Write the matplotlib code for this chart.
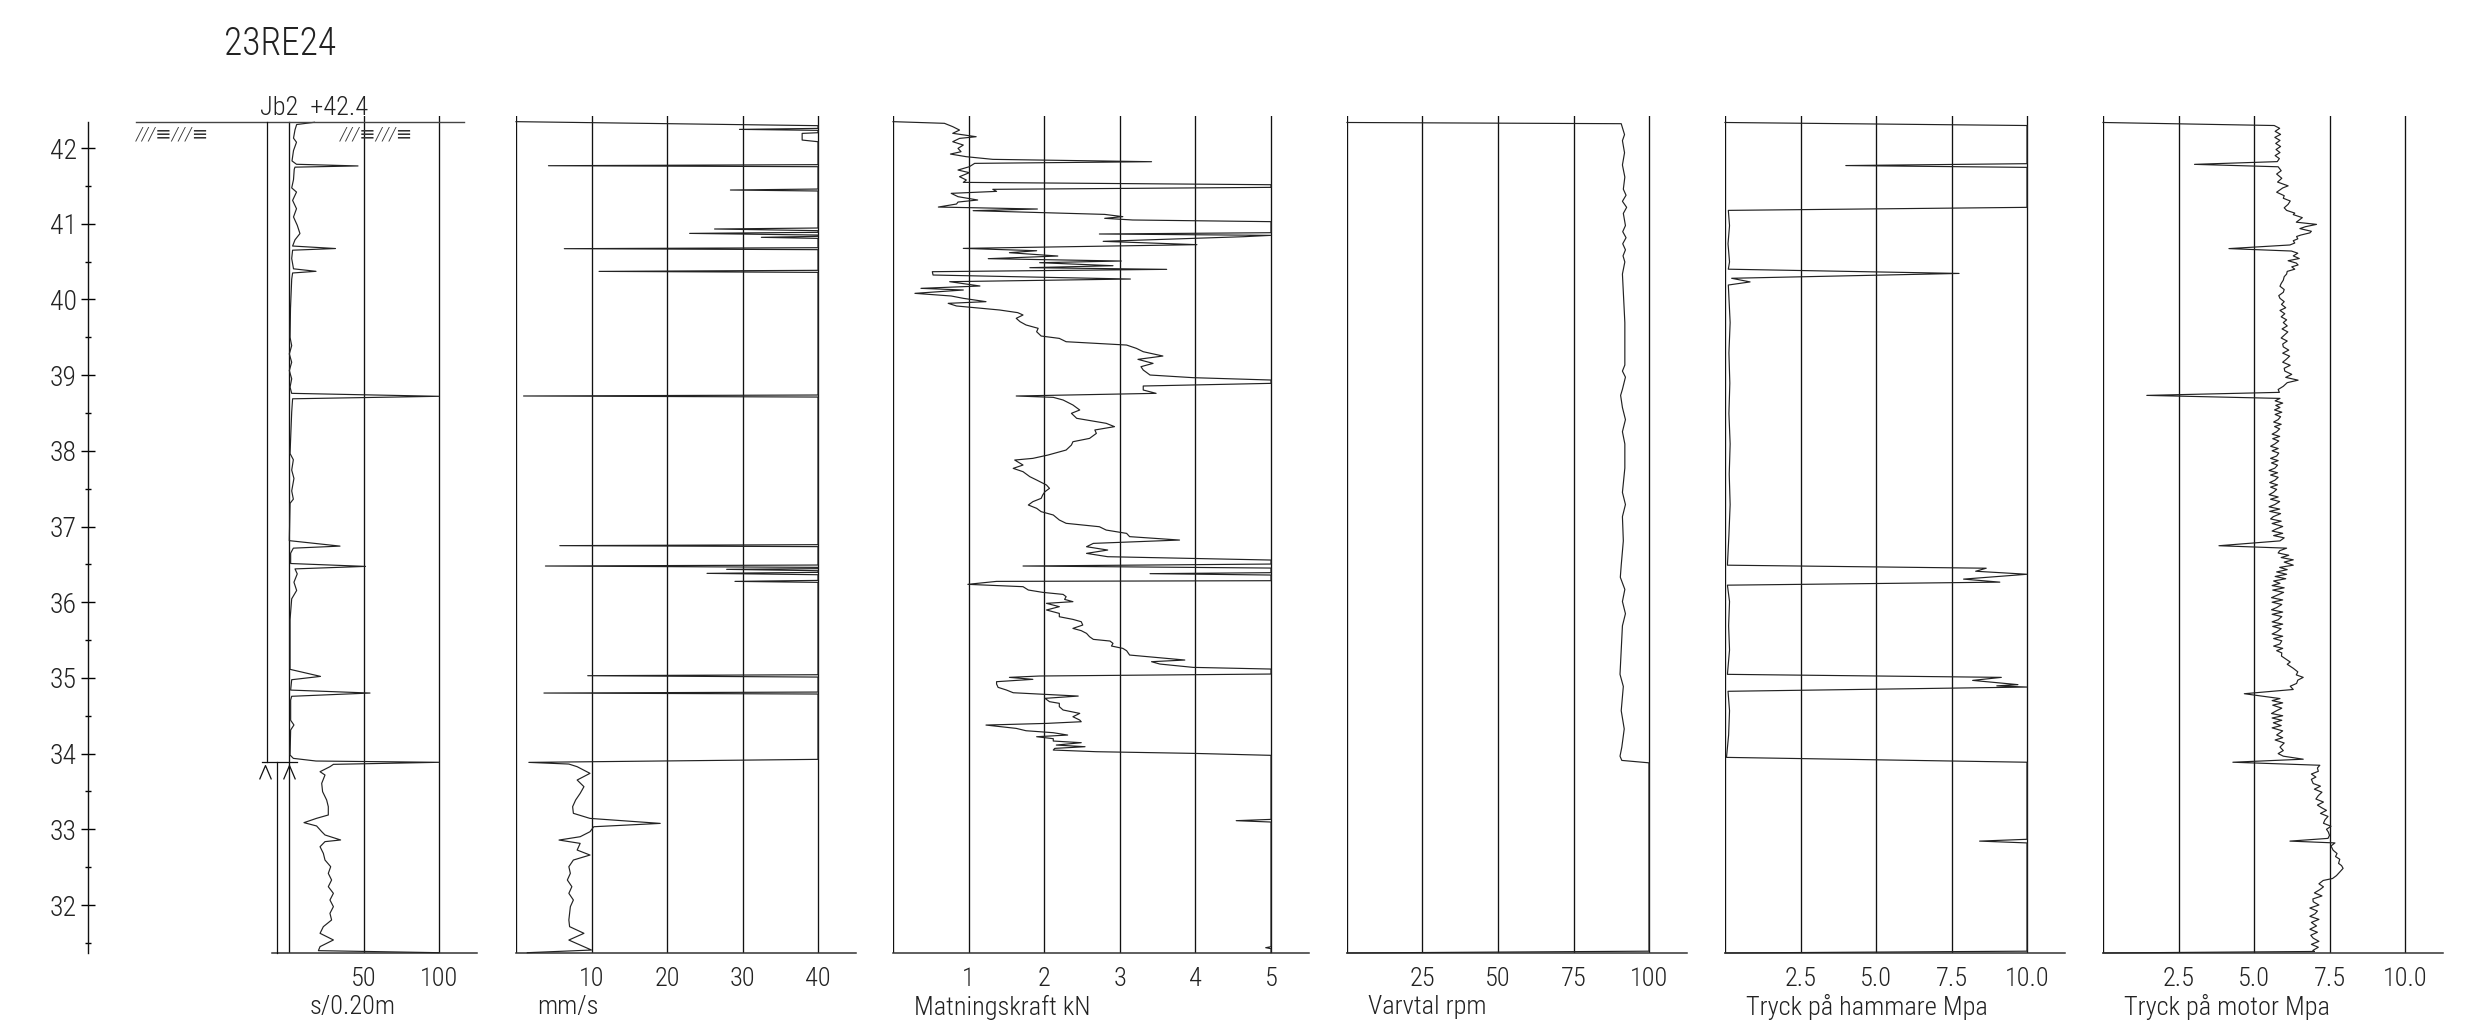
import numpy as np
import matplotlib
matplotlib.use("Agg")
import matplotlib.pyplot as plt
from matplotlib import font_manager

# --- Sheet geometry (pixels of the 2486 x 1034 drawing) ---
W, H, DPI = 2486, 1034, 100
PX_PER_M = 75.7          # vertical scale of the log
Y_AT_42 = 148            # pixel row of level +42.0
TOP_PX, BOT_PX = 116, 953
PT = 72 / DPI            # points per pixel

GROUND = 42.34           # ground level, Jb2 +42.4
CASING_SHOE = 33.89      # end of casing / start of rock drilling

# --- Level axis ---
LEVEL_MAJOR = list(range(32, 43))
LEVEL_MINOR = [31.5, 32.5, 33.5, 34.5, 35.5, 36.5, 37.5, 38.5, 39.5, 40.5, 41.5]

# --- s/0.20m ---
S020_DEPTH = [42.34, 42.31, 42.24, 42.13, 42.076, 41.966, 41.829, 41.785, 41.763, 41.747,
              41.719, 41.582, 41.473, 41.418, 41.308, 41.198, 41.089, 40.979, 40.870, 40.787,
              40.705, 40.672, 40.650, 40.540, 40.404, 40.371, 40.349, 40.266, 39.883, 39.499,
              39.389, 39.280, 39.170, 39.060, 38.951, 38.841, 38.759, 38.720, 38.687, 38.512,
              37.964, 37.882, 37.745, 37.635, 37.470, 37.361, 37.306, 36.813, 36.741, 36.714,
              36.648, 36.511, 36.473, 36.440, 36.374, 36.264, 36.155, 36.045, 35.771, 35.113,
              35.020, 34.976, 34.839, 34.800, 34.757, 34.708, 34.44, 34.378, 34.312, 33.981,
              33.937, 33.902, 33.885, 33.858, 33.827, 33.761, 33.717, 33.607, 33.497, 33.387,
              33.299, 33.189, 33.145, 33.088, 33.044, 32.969, 32.925, 32.859, 32.837, 32.770,
              32.682, 32.594, 32.506, 32.418, 32.330, 32.242, 32.154, 32.066, 31.978, 31.890,
              31.802, 31.714, 31.626, 31.538, 31.450, 31.397, 31.37]
S020_VAL = [17, 5.1, 4, 3, 5, 3, 2, 5, 46, 4,
            3.5, 3, 1.8, 5, 2.4, 5, 3, 5.5, 7.3, 4,
            2.4, 31, 2.4, 1.8, 3, 18, 2.4, 1.8, 1, 0.7,
            1.8, 0.2, 1.8, 0.2, 1.8, 0.7, 1.8, 100, 2.4, 1.8,
            0.7, 2.9, 1.8, 3.3, 1.8, 2.9, 0.7, 0.2, 34, 2.9,
            1.1, 1.1, 51, 4, 5.5, 3.3, 5.1, 1.8, 0.7, 0.7,
            21, 1.8, 1.1, 54, 1.8, 1.1, 1.1, 3.3, 1.1, 0.7,
            2.9, 18, 100, 29.6, 27.3, 20.7, 24, 21.8, 22.4, 25.1,
            26.2, 26.2, 18.4, 10, 18.4, 21.8, 24, 34.4, 24, 20.7,
            22.9, 24, 27.8, 26.2, 28.4, 26.2, 29.6, 27.3, 29.6, 27.3,
            28.4, 22.9, 20.7, 29.6, 20.7, 19.6, 100]

# --- mm/s ---
RATE_DEPTH = [42.348, 42.295, 42.259, 42.246, 42.233, 42.202, 42.193, 42.105, 42.083, 41.780,
              41.766, 41.753, 41.458, 41.445, 41.432, 40.943, 40.930, 40.908, 40.886, 40.872,
              40.850, 40.833, 40.820, 40.806, 40.683, 40.670, 40.657, 40.384, 40.370, 40.357,
              38.737, 38.724, 38.710, 36.760, 36.747, 36.734, 36.491, 36.478, 36.460, 36.443,
              36.434, 36.416, 36.394, 36.381, 36.363, 36.288, 36.275, 36.262, 35.042, 35.029,
              35.011, 34.813, 34.800, 34.787, 33.924, 33.884, 33.862, 33.827, 33.739, 33.651,
              33.563, 33.475, 33.387, 33.299, 33.211, 33.144, 33.078, 33.034, 32.968, 32.902,
              32.858, 32.814, 32.726, 32.660, 32.594, 32.506, 32.418, 32.330, 32.242, 32.154,
              32.066, 31.978, 31.890, 31.802, 31.714, 31.626, 31.537, 31.471, 31.405, 31.37]
RATE_VAL = [0, 40, 40, 29.6, 40, 40, 37.9, 37.9, 40, 40,
            4.3, 40, 40, 28.4, 40, 40, 26.3, 40, 40, 23,
            40, 40, 32.5, 40, 40, 6.4, 40, 40, 11, 40,
            40, 1.0, 40, 40, 5.8, 40, 40, 3.9, 40, 40,
            27.9, 40, 40, 25.3, 40, 40, 29, 40, 40, 9.5,
            40, 40, 3.7, 40, 40, 1.7, 7, 8.1, 9.8, 8.1,
            9, 8.5, 7.9, 7.5, 7.6, 9.8, 19.1, 10.3, 9.8, 8.5,
            5.7, 8.5, 8.1, 9.8, 7.6, 7, 7.2, 6.8, 7.4, 7,
            7.6, 7.2, 7.1, 7, 7.1, 9, 7, 8.5, 10, 1.5]

# --- Matningskraft kN ---
FEED_DEPTH = [42.348, 42.326, 42.282, 42.237, 42.194, 42.149, 42.127, 42.083, 42.039, 41.995,
              41.951, 41.920, 41.885, 41.850, 41.819, 41.797, 41.753, 41.709, 41.674, 41.621,
              41.577, 41.546, 41.515, 41.480, 41.454, 41.427, 41.401, 41.357, 41.313, 41.286,
              41.260, 41.220, 41.194, 41.172, 41.123, 41.093, 41.071, 41.049, 41.027, 40.881,
              40.864, 40.846, 40.828, 40.767, 40.723, 40.674, 40.643, 40.617, 40.573, 40.538,
              40.507, 40.485, 40.445, 40.419, 40.397, 40.366, 40.322, 40.269, 40.234, 40.177,
              40.146, 40.124, 40.080, 40.045, 40.014, 39.970, 39.948, 39.913, 39.860, 39.825,
              39.794, 39.750, 39.706, 39.662, 39.618, 39.573, 39.516, 39.485, 39.441, 39.397,
              39.353, 39.309, 39.252, 39.208, 39.155, 39.111, 39.067, 39.001, 38.966, 38.935,
              38.891, 38.856, 38.803, 38.759, 38.724, 38.706, 38.671, 38.605, 38.539, 38.495,
              38.429, 38.363, 38.319, 38.275, 38.230, 38.164, 38.120, 38.076, 38.010, 37.944,
              37.900, 37.878, 37.812, 37.768, 37.724, 37.658, 37.614, 37.548, 37.504, 37.460,
              37.416, 37.372, 37.328, 37.284, 37.240, 37.196, 37.152, 37.086, 37.042, 36.997,
              36.953, 36.909, 36.866, 36.821, 36.777, 36.733, 36.689, 36.645, 36.601, 36.557,
              36.504, 36.478, 36.451, 36.390, 36.377, 36.359, 36.284, 36.275, 36.236, 36.205,
              36.161, 36.130, 36.103, 36.073, 36.037, 36.007, 35.985, 35.941, 35.897, 35.852,
              35.808, 35.773, 35.742, 35.698, 35.654, 35.624, 35.588, 35.544, 35.509, 35.487,
              35.456, 35.421, 35.390, 35.359, 35.302, 35.271, 35.236, 35.214, 35.183, 35.157,
              35.139, 35.117, 35.051, 35.025, 35.007, 34.981, 34.950, 34.919, 34.875, 34.840,
              34.804, 34.783, 34.760, 34.730, 34.686, 34.664, 34.620, 34.576, 34.531, 34.487,
              34.443, 34.421, 34.399, 34.377, 34.333, 34.302, 34.276, 34.245, 34.223, 34.197,
              34.166, 34.144, 34.113, 34.091, 34.069, 34.047, 34.025, 34.003, 33.977, 33.131,
              33.114, 33.096, 31.449, 31.436, 31.423, 31.37]
FEED_VAL = [0, 0.68, 0.79, 0.88, 0.79, 1.10, 0.88, 0.79, 0.93, 0.86,
            0.90, 0.76, 0.97, 1.32, 3.42, 1.08, 1.01, 0.86, 1.01, 0.88,
            0.97, 0.93, 5, 5, 1.32, 1.37, 0.77, 0.86, 1.12, 0.86,
            0.84, 0.60, 1.91, 1.06, 2.80, 3.04, 2.80, 3.17, 5, 5,
            2.73, 5, 4.63, 2.78, 4.02, 0.93, 1.90, 1.54, 2.18, 1.26,
            3.02, 1.94, 2.91, 1.81, 3.62, 0.52, 0.53, 3.14, 0.75, 1.15,
            0.37, 0.93, 0.29, 0.77, 0.93, 1.23, 0.73, 0.84, 1.41, 1.65,
            1.72, 1.63, 1.68, 1.76, 1.92, 1.90, 1.96, 2.20, 2.29, 3.09,
            3.22, 3.31, 3.57, 3.24, 3.44, 3.28, 3.31, 3.40, 3.97, 5,
            5, 3.31, 3.31, 3.48, 1.63, 2.12, 2.25, 2.38, 2.47, 2.36,
            2.43, 2.82, 2.93, 2.67, 2.69, 2.60, 2.38, 2.36, 2.29, 2.05,
            1.85, 1.61, 1.72, 1.59, 1.72, 1.81, 1.90, 2.03, 2.07, 2.01,
            1.98, 1.96, 1.85, 1.79, 1.90, 1.96, 2.12, 2.20, 2.29, 2.73,
            2.82, 3.09, 3.13, 3.79, 2.65, 2.56, 2.84, 2.56, 2.84, 5,
            5, 1.72, 5, 5, 3.40, 5, 5, 1.37, 0.99, 1.72,
            1.79, 1.98, 2.25, 2.29, 2.27, 2.38, 2.03, 2.20, 2.03, 2.20,
            2.20, 2.38, 2.49, 2.51, 2.38, 2.49, 2.56, 2.60, 2.65, 2.87,
            2.91, 2.89, 3.04, 3.09, 3.13, 3.48, 3.86, 3.42, 3.53, 3.79,
            3.97, 5, 5, 1.94, 1.54, 1.85, 1.37, 1.37, 1.39, 1.50,
            1.59, 2.01, 2.45, 2.01, 2.07, 2.20, 2.20, 2.25, 2.47, 2.38,
            2.47, 2.49, 2.03, 1.23, 1.63, 1.76, 2.12, 2.31, 1.90, 2.12,
            2.12, 2.49, 2.16, 2.54, 2.14, 2.12, 2.69, 3.97, 5, 5,
            4.54, 5, 5, 4.93, 5, 5]

# --- Varvtal rpm ---
RPM_DEPTH = [42.337, 42.321, 42.177, 42.097, 41.937, 41.776, 41.616, 41.456, 41.376, 41.296,
             41.216, 41.136, 40.975, 40.895, 40.815, 40.735, 40.655, 40.575, 40.495, 40.335,
             39.694, 39.133, 39.053, 38.973, 38.812, 38.732, 38.572, 38.412, 38.252, 38.091,
             37.771, 37.451, 37.290, 37.130, 36.810, 36.489, 36.329, 36.169, 36.009, 35.848,
             35.688, 35.368, 35.047, 34.887, 34.567, 34.326, 34.086, 33.966, 33.910, 33.878,
             31.39, 31.366]
RPM_VAL = [0, 90.8, 91.9, 91.2, 91.9, 91.2, 92.0, 91.5, 92.4, 91.2,
           92.6, 91.5, 92.2, 91.3, 92.4, 91.3, 92.2, 91.4, 92.0, 91.2,
           92.0, 92.0, 91.2, 92.2, 91.2, 90.6, 91.2, 92.2, 91.2, 92.0,
           92.0, 91.2, 92.2, 91.2, 91.5, 90.8, 90.5, 92.0, 91.2, 92.2,
           91.2, 90.8, 90.4, 91.5, 90.8, 91.8, 91.0, 90.4, 91.0, 100,
           100, 0]

# --- Tryck pa hammare Mpa ---
HAMMER_DEPTH = [42.337, 42.297, 41.793, 41.768, 41.744, 41.216, 41.176, 40.975, 40.735, 40.495,
                40.399, 40.343, 40.279, 40.231, 40.190, 39.694, 39.293, 38.893, 38.492, 38.091,
                37.691, 37.290, 36.890, 36.489, 36.449, 36.409, 36.369, 36.305, 36.265, 36.225,
                36.009, 35.688, 35.368, 35.047, 35.007, 34.967, 34.911, 34.895, 34.879, 34.823,
                34.567, 34.246, 33.950, 33.886, 32.868, 32.844, 32.820, 31.39, 31.366]
HAMMER_VAL = [0, 10, 10, 4.0, 10, 10, 0.11, 0.15, 0.10, 0.15,
              0.11, 7.75, 0.22, 0.83, 0.11, 0.17, 0.13, 0.16, 0.13, 0.17,
              0.14, 0.17, 0.13, 0.08, 8.65, 8.3, 10, 7.9, 9.1, 0.08,
              0.15, 0.12, 0.15, 0.08, 9.15, 8.2, 9.7, 9.0, 10, 0.1,
              0.15, 0.12, 0.05, 10, 10, 8.43, 10, 10, 0]

# --- Tryck pa motor Mpa ---
MOTOR_DEPTH = [42.337, 42.297, 42.26, 42.22, 42.18, 42.14, 42.10, 42.06, 42.02, 41.98,
               41.94, 41.90, 41.86, 41.82, 41.784, 41.752, 41.70, 41.656, 41.60, 41.55,
               41.50, 41.472, 41.416, 41.37, 41.336, 41.30, 41.256, 41.21, 41.176, 41.14,
               41.120, 41.08, 41.056, 41.02, 40.991, 40.96, 40.935, 40.90, 40.879, 40.85,
               40.831, 40.80, 40.775, 40.745, 40.719, 40.671, 40.639, 40.61, 40.575, 40.54,
               40.511, 40.48, 40.455, 40.43, 40.399, 40.37, 40.335, 40.30, 40.254, 40.21,
               40.174, 40.13, 40.094, 40.05, 40.014, 39.97, 39.934, 39.89, 39.854, 39.81,
               39.77, 39.73, 39.694, 39.65, 39.61, 39.57, 39.533, 39.49, 39.45, 39.41,
               39.373, 39.33, 39.29, 39.25, 39.213, 39.17, 39.13, 39.09, 39.053, 39.01,
               38.97, 38.933, 38.90, 38.852, 38.81, 38.772, 38.732, 38.692, 38.66, 38.63,
               38.60, 38.572, 38.54, 38.51, 38.48, 38.45, 38.412, 38.38, 38.35, 38.32,
               38.29, 38.252, 38.22, 38.19, 38.16, 38.13, 38.091, 38.06, 38.03, 38.00,
               37.97, 37.931, 37.90, 37.87, 37.84, 37.81, 37.771, 37.74, 37.71, 37.68,
               37.65, 37.611, 37.58, 37.55, 37.52, 37.49, 37.451, 37.42, 37.39, 37.36,
               37.33, 37.290, 37.26, 37.23, 37.20, 37.17, 37.130, 37.10, 37.07, 37.04,
               37.00, 36.970, 36.94, 36.91, 36.88, 36.85, 36.810, 36.746, 36.714, 36.68,
               36.650, 36.62, 36.59, 36.56, 36.53, 36.489, 36.46, 36.43, 36.40, 36.369,
               36.34, 36.31, 36.28, 36.249, 36.22, 36.19, 36.16, 36.13, 36.089, 36.06,
               36.03, 36.00, 35.97, 35.929, 35.90, 35.87, 35.84, 35.81, 35.768, 35.74,
               35.71, 35.68, 35.65, 35.608, 35.58, 35.55, 35.52, 35.49, 35.448, 35.42,
               35.39, 35.36, 35.33, 35.288, 35.25, 35.21, 35.18, 35.127, 35.08, 35.04,
               35.007, 34.97, 34.927, 34.89, 34.847, 34.791, 34.727, 34.70, 34.67, 34.64,
               34.60, 34.567, 34.53, 34.50, 34.47, 34.44, 34.407, 34.37, 34.34, 34.30,
               34.246, 34.21, 34.18, 34.14, 34.086, 34.04, 34.00, 33.966, 33.926, 33.886,
               33.846, 33.81, 33.766, 33.73, 33.69, 33.66, 33.605, 33.57, 33.53, 33.49,
               33.445, 33.40, 33.36, 33.32, 33.285, 33.25, 33.21, 33.17, 33.125, 33.08,
               33.04, 33.00, 32.965, 32.92, 32.88, 32.844, 32.82, 32.78, 32.724, 32.68,
               32.64, 32.604, 32.55, 32.52, 32.484, 32.44, 32.388, 32.35, 32.324, 32.28,
               32.24, 32.203, 32.16, 32.12, 32.08, 32.043, 32.00, 31.96, 31.92, 31.883,
               31.85, 31.81, 31.77, 31.723, 31.68, 31.64, 31.60, 31.562, 31.52, 31.48,
               31.442, 31.40, 31.386, 31.366]
MOTOR_VAL = [0, 5.67, 5.85, 5.70, 5.88, 5.69, 5.86, 5.72, 5.88, 5.73,
             5.86, 5.70, 5.84, 5.77, 3.03, 5.80, 5.90, 5.75, 5.92, 5.78,
             6.13, 5.95, 5.75, 6.00, 5.97, 6.20, 6.13, 6.00, 6.08, 6.35,
             6.30, 6.60, 6.52, 6.40, 7.07, 6.70, 6.52, 6.90, 6.85, 6.55,
             6.41, 6.45, 6.30, 6.35, 6.19, 4.17, 6.24, 6.45, 6.30, 6.50,
             6.13, 6.40, 6.46, 6.25, 6.35, 6.10, 6.08, 6.00, 5.97, 5.90,
             5.86, 6.00, 5.97, 5.82, 5.86, 6.00, 5.91, 6.05, 5.86, 6.02,
             5.90, 6.08, 5.97, 6.10, 5.93, 6.12, 6.02, 5.90, 6.10, 5.95,
             5.97, 6.15, 5.95, 6.18, 6.08, 5.95, 6.20, 6.00, 6.02, 6.25,
             6.05, 6.46, 6.10, 5.97, 5.80, 5.84, 1.45, 5.86, 5.70, 5.95,
             5.72, 5.86, 5.68, 5.92, 5.70, 5.88, 5.80, 5.65, 5.90, 5.68,
             5.85, 5.75, 5.60, 5.85, 5.62, 5.82, 5.69, 5.55, 5.80, 5.60,
             5.82, 5.75, 5.55, 5.80, 5.58, 5.78, 5.69, 5.50, 5.78, 5.55,
             5.80, 5.69, 5.52, 5.78, 5.55, 5.75, 5.64, 5.50, 5.80, 5.55,
             5.85, 5.69, 5.50, 5.85, 5.52, 5.88, 5.64, 5.55, 5.90, 5.60,
             5.95, 5.75, 5.60, 5.95, 5.65, 6.00, 5.86, 3.84, 6.08, 5.85,
             5.80, 6.15, 5.90, 6.30, 6.00, 6.30, 5.85, 6.10, 5.75, 6.08,
             5.70, 6.05, 5.65, 5.86, 5.60, 6.00, 5.62, 5.98, 5.75, 5.58,
             5.95, 5.60, 5.92, 5.75, 5.58, 5.95, 5.60, 5.92, 5.80, 5.60,
             5.95, 5.62, 5.90, 5.75, 5.60, 5.95, 5.65, 5.92, 5.86, 5.65,
             5.95, 5.75, 5.92, 5.91, 6.05, 6.20, 6.10, 6.30, 6.45, 6.40,
             6.63, 6.45, 6.41, 6.20, 6.30, 4.68, 5.86, 5.60, 5.95, 5.62,
             5.92, 5.75, 5.58, 5.95, 5.60, 5.92, 5.64, 5.90, 5.60, 5.95,
             5.75, 5.95, 5.70, 6.00, 5.86, 5.97, 5.80, 5.97, 6.63, 4.30,
             7.18, 7.10, 7.13, 6.90, 7.05, 6.90, 6.96, 7.20, 7.00, 7.25,
             7.13, 7.05, 7.30, 7.10, 7.24, 7.40, 7.20, 7.45, 7.35, 7.30,
             7.55, 7.40, 7.46, 7.50, 7.45, 6.19, 7.68, 7.55, 7.62, 7.75,
             7.70, 7.84, 7.80, 7.90, 7.95, 7.85, 7.73, 7.60, 7.29, 7.15,
             7.30, 7.18, 7.00, 7.25, 6.95, 6.96, 7.15, 6.85, 7.10, 7.02,
             6.85, 7.15, 6.90, 7.07, 6.85, 7.10, 6.88, 6.96, 7.15, 6.90,
             7.13, 6.95, 7.00, 0]

# one entry per column: zero line pixel, pixels per unit, right end of scale
PANELS = [
    dict(label="s/0.20m", zero_px=289, ppu=1.5, xmin=-18, xmax=125.3, base_start=-11.3,
         ticks=[50, 100], ticklabels=["50", "100"], depth=S020_DEPTH, val=S020_VAL),
    dict(label="mm/s", zero_px=516, ppu=7.55, xmin=0, xmax=45.0, base_start=0,
         ticks=[10, 20, 30, 40], ticklabels=["10", "20", "30", "40"], depth=RATE_DEPTH, val=RATE_VAL),
    dict(label="Matningskraft kN", zero_px=893, ppu=75.6, xmin=0, xmax=5.5, base_start=0,
         ticks=[1, 2, 3, 4, 5], ticklabels=["1", "2", "3", "4", "5"], depth=FEED_DEPTH, val=FEED_VAL),
    dict(label="Varvtal rpm", zero_px=1347, ppu=3.02, xmin=0, xmax=112.6, base_start=0,
         ticks=[25, 50, 75, 100], ticklabels=["25", "50", "75", "100"], depth=RPM_DEPTH, val=RPM_VAL),
    dict(label="Tryck på hammare Mpa", zero_px=1725, ppu=30.2, xmin=0, xmax=11.26, base_start=0,
         ticks=[2.5, 5, 7.5, 10], ticklabels=["2.5", "5.0", "7.5", "10.0"], depth=HAMMER_DEPTH, val=HAMMER_VAL),
    dict(label="Tryck på motor Mpa", zero_px=2103, ppu=30.2, xmin=0, xmax=11.26, base_start=0,
         ticks=[2.5, 5, 7.5, 10], ticklabels=["2.5", "5.0", "7.5", "10.0"], depth=MOTOR_DEPTH, val=MOTOR_VAL),
]

INK = "#111111"
TRACE = "#222222"
TEXT = "#222222"


def level_to_px(z):
    return Y_AT_42 + (42 - z) * PX_PER_M


Z_TOP = 42 + (Y_AT_42 - TOP_PX) / PX_PER_M
Z_BOT = 42 - (BOT_PX - Y_AT_42) / PX_PER_M


def pick_font():
    """Narrow sans font closest to the CAD lettering, if one is installed."""
    entries = font_manager.fontManager.ttflist
    names = {f.name for f in entries}
    for name in ["Roboto Condensed", "Noto Sans Condensed", "Open Sans Condensed",
                 "Liberation Sans Narrow", "DejaVu Sans Condensed"]:
        if name in names:
            return name, "normal"
    for f in entries:
        if f.name in ("Roboto", "Noto Sans", "Open Sans", "DejaVu Sans") and "condensed" in str(f.stretch):
            return f.name, "condensed"
    for name in sorted(names):
        if "Condensed" in name or "Narrow" in name:
            return name, "normal"
    return "DejaVu Sans", "normal"


def px_axes(fig, x0, x1, y0, y1):
    return fig.add_axes([x0 / W, 1 - y1 / H, (x1 - x0) / W, (y1 - y0) / H])


def draw_panel(fig, p):
    x0 = p["zero_px"] + p["xmin"] * p["ppu"]
    x1 = p["zero_px"] + p["xmax"] * p["ppu"]
    ax = px_axes(fig, x0, x1, TOP_PX, BOT_PX)
    ax.set_xlim(p["xmin"], p["xmax"])
    ax.set_ylim(Z_BOT, Z_TOP)
    for s in ax.spines.values():
        s.set_visible(False)
    ax.set_yticks([])
    ax.patch.set_alpha(0)

    for t in p["ticks"]:
        ax.axvline(t, color=INK, lw=0.95)
    if p["xmin"] < 0:
        ax.plot([0, 0], [Z_BOT, GROUND], color=INK, lw=0.95)
    else:
        ax.axvline(0, color=INK, lw=0.95)
    ax.plot([p["base_start"], p["xmax"]], [Z_BOT, Z_BOT], color="#333333", lw=1.1, clip_on=False)

    ax.plot(p["val"], p["depth"], color=TRACE, lw=0.85, clip_on=False)

    ax.set_xticks(p["ticks"], p["ticklabels"])
    ax.tick_params(axis="x", length=0, pad=10, labelsize=19, labelcolor=TEXT)
    ax.annotate(p["label"], xy=(0, Z_BOT), xytext=(21 * PT, -54 * PT), textcoords="offset points",
                ha="left", va="center", fontsize=19, color=TEXT, annotation_clip=False)
    return ax


def draw_borehole(ax):
    """Ground line, casing and the Jb2 header on the first column."""
    ppu = PANELS[0]["ppu"]
    ax.plot([-153 / ppu, 175 / ppu], [GROUND, GROUND], color="#444444", lw=1.0, clip_on=False)
    ax.plot([-14.7, -14.7], [CASING_SHOE, GROUND], color=INK, lw=0.9, clip_on=False)
    ax.plot([-8, -8], [Z_BOT, CASING_SHOE], color=INK, lw=0.9, clip_on=False)
    ax.plot([-18, 5.3], [CASING_SHOE, CASING_SHOE], color=INK, lw=0.9, clip_on=False)
    ax.plot([-16, 0], [CASING_SHOE - 0.13, CASING_SHOE - 0.13], ls="none",
            marker=[(-0.85, -1), (0, 1), (0.85, -1)], ms=10, mfc="none", mec=INK, mew=0.9, clip_on=False)

    ax.annotate("Jb2  +42.4", xy=(-19.3, GROUND), xytext=(0, 7 * PT), textcoords="offset points",
                ha="left", va="baseline", fontsize=19, color=TEXT, annotation_clip=False)
    for x in (-153 / ppu, 51 / ppu):
        ax.annotate("///\u2261///\u2261", xy=(x, GROUND), xytext=(0, -3 * PT), textcoords="offset points",
                    ha="left", va="top", fontsize=14, style="italic", color="#333333",
                    annotation_clip=False)


def draw_level_axis(fig):
    ax = px_axes(fig, 88, 89, level_to_px(GROUND), BOT_PX)
    ax.set_ylim(Z_BOT, GROUND)
    ax.set_xticks([])
    for side in ("top", "right", "bottom"):
        ax.spines[side].set_visible(False)
    ax.spines["left"].set_color(INK)
    ax.spines["left"].set_linewidth(1.0)
    ax.patch.set_alpha(0)
    ax.set_yticks(LEVEL_MAJOR, [str(v) for v in LEVEL_MAJOR])
    ax.set_yticks(LEVEL_MINOR, minor=True)
    ax.tick_params(axis="y", which="major", direction="inout", length=10, width=1.0,
                   pad=3, labelsize=20, labelcolor=TEXT)
    ax.tick_params(axis="y", which="minor", direction="inout", length=5, width=1.0)


def main():
    name, stretch = pick_font()
    plt.rcParams["font.family"] = [name, "DejaVu Sans"]
    plt.rcParams["font.stretch"] = stretch
    plt.rcParams["font.weight"] = "light"

    fig = plt.figure(figsize=(W / DPI, H / DPI), dpi=DPI)
    fig.patch.set_facecolor("white")

    axes = [draw_panel(fig, p) for p in PANELS]
    draw_borehole(axes[0])
    draw_level_axis(fig)

    fig.text(224 / W, 1 - 55 / H, "23RE24", ha="left", va="baseline", fontsize=27, color=TEXT)

    fig.savefig("out.png", dpi=DPI)


if __name__ == "__main__":
    main()
